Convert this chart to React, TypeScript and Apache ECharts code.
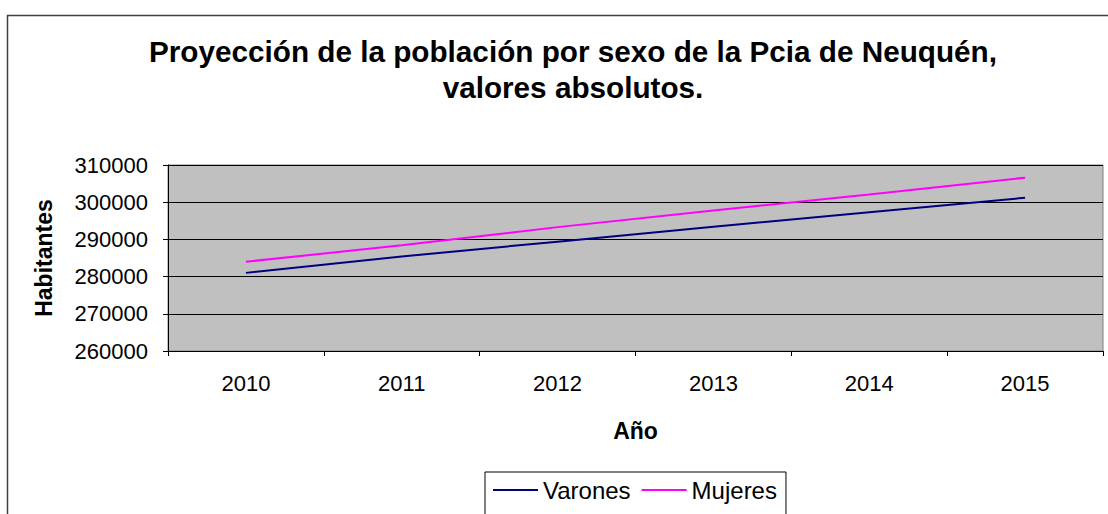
import React, { useEffect, useRef } from "react";
import * as echarts from "echarts";

const years = ["2010", "2011", "2012", "2013", "2014", "2015"];
const varones = [281000, 285400, 289400, 293400, 297300, 301200];
const mujeres = [284000, 288400, 293300, 297800, 302100, 306600];
const yMin = 260000;
const yMax = 310000;
const yStep = 10000;

const FONT = "'Liberation Sans', Arial, sans-serif";

export default function App() {
  const ref = useRef<HTMLDivElement>(null);
  useEffect(() => {
    if (!ref.current) return;
    const chart = echarts.init(ref.current, undefined, { renderer: "svg" });
    chart.setOption({
      animation: false,
      backgroundColor: "#ffffff",
      textStyle: { fontFamily: FONT },
      title: {
        text: "Proyección de la población por sexo de la Pcia de Neuquén,\nvalores absolutos.",
        left: 568,
        textAlign: "center",
        top: 28,
        textStyle: {
          fontFamily: FONT,
          fontSize: 29.7,
          fontWeight: "bold",
          color: "#000",
          lineHeight: 36,
        },
      },
      graphic: [
        {
          type: "rect",
          shape: { x: 7.5, y: 15.5, width: 1200, height: 600 },
          style: { fill: "none", stroke: "#404040", lineWidth: 1.5 },
          silent: true,
          z: -10,
        },
      ],
      legend: {
        left: 485,
        top: 472,
        padding: [6, 9, 30, 8],
        borderColor: "#000",
        borderWidth: 1,
        itemWidth: 45,
        itemHeight: 2,
        itemGap: 11,
        icon: "rect",
        textStyle: { fontFamily: FONT, fontSize: 24, color: "#000" },
        data: ["Varones", "Mujeres"],
      },
      grid: {
        left: 168,
        top: 165,
        right: 5,
        bottom: 163,
        show: true,
        backgroundColor: "#C0C0C0",
        borderColor: "#808080",
        borderWidth: 1,
      },
      xAxis: {
        type: "category",
        data: years,
        boundaryGap: true,
        axisLine: { show: true, lineStyle: { color: "#000", width: 1 } },
        axisTick: { show: true, length: 5, lineStyle: { color: "#000" } },
        axisLabel: { fontFamily: FONT, fontSize: 22, color: "#000", margin: 21 },
        name: "Año",
        nameLocation: "middle",
        nameGap: 68,
        nameTextStyle: { fontFamily: FONT, fontSize: 23, fontWeight: "bold", color: "#000" },
        splitLine: { show: false },
      },
      yAxis: {
        type: "value",
        min: yMin,
        max: yMax,
        interval: yStep,
        axisLine: { show: true, lineStyle: { color: "#000", width: 1 } },
        axisTick: { show: true, length: 5, lineStyle: { color: "#000" } },
        axisLabel: {
          fontFamily: FONT,
          fontSize: 22,
          color: "#000",
          margin: 20,
          formatter: (v: number) => String(v),
        },
        splitLine: { show: true, lineStyle: { color: "#000", width: 1 } },
        name: "Habitantes",
        nameLocation: "middle",
        nameRotate: 90,
        nameGap: 113,
        nameTextStyle: { fontFamily: FONT, fontSize: 23, fontWeight: "bold", color: "#000" },
      },
      series: [
        {
          name: "Varones",
          type: "line",
          data: varones,
          symbol: "none",
          showSymbol: false,
          color: "#000080",
          lineStyle: { color: "#000080", width: 2 },
        },
        {
          name: "Mujeres",
          type: "line",
          data: mujeres,
          symbol: "none",
          showSymbol: false,
          color: "#FF00FF",
          lineStyle: { color: "#FF00FF", width: 2 },
        },
      ],
    });
    return () => chart.dispose();
  }, []);
  return (
    <div
      ref={ref}
      style={{ position: "fixed", left: 0, top: 0, width: 1108, height: 514 }}
    />
  );
}
